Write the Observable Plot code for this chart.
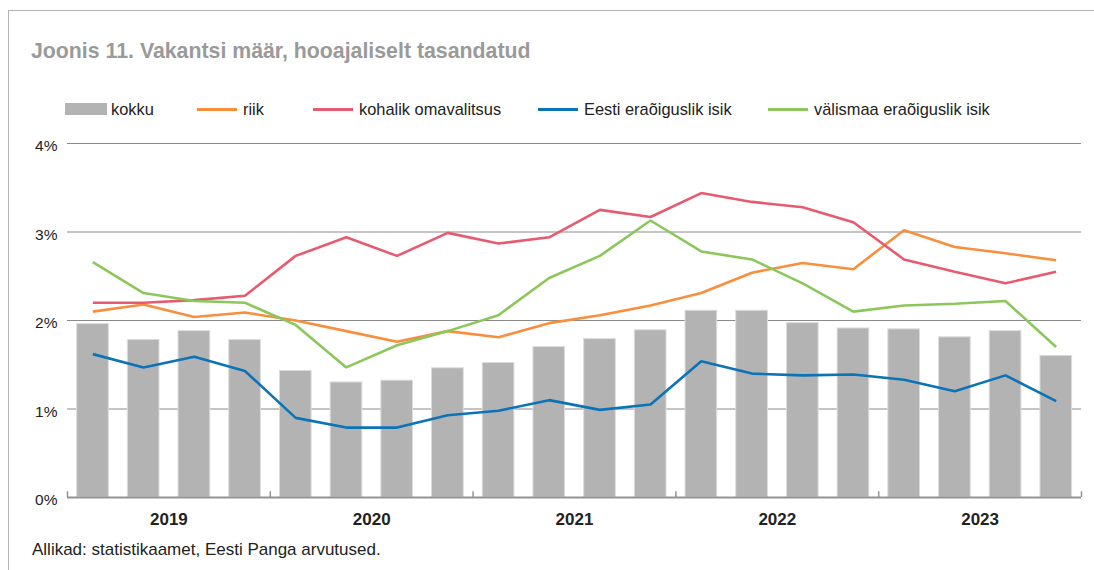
<!DOCTYPE html>
<html>
<head>
<meta charset="utf-8">
<script src="https://cdn.jsdelivr.net/npm/d3@7"></script>
<script src="https://cdn.jsdelivr.net/npm/@observablehq/plot@0.6"></script>
<style>
  html, body { margin: 0; padding: 0; background: #fff; }
  body { width: 1094px; height: 570px; position: relative; overflow: hidden; font-family: "Liberation Sans", Arial, Helvetica, sans-serif; }
  #frame { position: absolute; left: 8px; top: 10px; width: 1200px; height: 700px; border: 1.5px solid #b4b4b4; box-sizing: border-box; }
  #title { position: absolute; left: 31px; top: 39px; font-size: 21.3px; font-weight: bold; color: #9a9a9a; white-space: nowrap; }
  .leg { position: absolute; top: 100px; font-size: 16.4px; color: #222; white-space: nowrap; line-height: 19px; }
  .sw { position: absolute; }
  #chart { position: absolute; left: 0; top: 125px; }
  #caption { position: absolute; left: 32px; top: 540px; font-size: 17px; color: #222; white-space: nowrap; }
</style>
</head>
<body>
<div id="frame"></div>
<div id="title">Joonis 11. Vakantsi määr, hooajaliselt tasandatud</div>
<div id="legend"></div>
<div id="chart"></div>
<div id="caption">Allikad: statistikaamet, Eesti Panga arvutused.</div>
<script>
// Data (percent), quarterly 2019 Q1 – 2023 Q4
const years = ["2019", "2020", "2021", "2022", "2023"];
const quarters = years.flatMap(y => ["I", "II", "III", "IV"].map(q => y + " " + q));
const kokku    = [1.96, 1.78, 1.88, 1.78, 1.43, 1.30, 1.32, 1.46, 1.52, 1.70, 1.79, 1.89, 2.11, 2.11, 1.97, 1.91, 1.90, 1.81, 1.88, 1.60];
const riik     = [2.10, 2.18, 2.04, 2.09, 2.00, 1.88, 1.76, 1.88, 1.81, 1.97, 2.06, 2.17, 2.31, 2.54, 2.65, 2.58, 3.02, 2.83, 2.76, 2.68];
const kohalik  = [2.20, 2.20, 2.23, 2.28, 2.73, 2.94, 2.73, 2.99, 2.87, 2.94, 3.25, 3.17, 3.44, 3.34, 3.28, 3.11, 2.69, 2.55, 2.42, 2.55];
const eesti    = [1.62, 1.47, 1.59, 1.43, 0.90, 0.79, 0.79, 0.93, 0.98, 1.10, 0.99, 1.05, 1.54, 1.40, 1.38, 1.39, 1.33, 1.20, 1.38, 1.09];
const valismaa = [2.66, 2.31, 2.22, 2.20, 1.95, 1.47, 1.72, 1.88, 2.06, 2.48, 2.73, 3.13, 2.78, 2.69, 2.42, 2.10, 2.17, 2.19, 2.22, 1.70];
const yTicks = [0, 1, 2, 3, 4];

const seriesNames = ["kokku", "riik", "kohalik omavalitsus", "Eesti eraõiguslik isik", "välismaa eraõiguslik isik"];
const colors = ["#b3b3b4", "#f98e3d", "#e65b6f", "#0b73b6", "#8bc75c"];

// Legend
const legX = [65, 197, 313, 538, 768];
const legend = document.getElementById("legend");
seriesNames.forEach((name, i) => {
  const sw = document.createElement("div");
  sw.className = "sw";
  if (i === 0) {
    sw.style.cssText = `left:${legX[i]}px;top:103px;width:42px;height:12px;background:${colors[i]};`;
  } else {
    sw.style.cssText = `left:${legX[i]}px;top:108px;width:40px;height:3px;background:${colors[i]};`;
  }
  legend.appendChild(sw);
  const t = document.createElement("div");
  t.className = "leg";
  t.style.left = (legX[i] + 46) + "px";
  t.textContent = name;
  legend.appendChild(t);
});

const rows = quarters.map((q, i) => ({q, i, kokku: kokku[i]}));
const lineSeries = [riik, kohalik, eesti, valismaa];
const lineData = lineSeries.flatMap((arr, s) => arr.map((v, i) => ({s: seriesNames[s + 1], i, v, c: colors[s + 1]})));
const yearData = years.map((y, k) => ({y, k}));

const chart = Plot.plot({
  width: 1094,
  height: 412,
  marginLeft: 67,
  marginRight: 13,
  marginTop: 18,
  marginBottom: 40,
  style: {fontFamily: "'Liberation Sans', Arial, Helvetica, sans-serif", fontSize: "15px", color: "#222", background: "transparent"},
  x: {domain: [0, 20], axis: null},
  y: {domain: [0, 4], axis: null},
  marks: [
    Plot.ruleY(yTicks.filter(d => d > 0), {stroke: "#8a8a8a", strokeWidth: 1, strokeOpacity: 1}),
    Plot.rectY(rows, {x1: d => d.i + 0.19, x2: d => d.i + 0.815, y: "kokku", fill: colors[0], stroke: "#dcdcdc", strokeWidth: 1}),
    Plot.ruleY([0], {stroke: "#8f9496", strokeWidth: 2}),
    Plot.ruleX(d3.range(0, 21, 4), {y1: 0, y2: 0.065, stroke: "#8f9496", strokeWidth: 1.5}),
    Plot.text(yTicks, {x: 0, y: d => d, text: d => d + "%", textAnchor: "end", dx: -10, dy: 3, fill: "#222", fontSize: 15.5}),
    Plot.text(yearData, {x: d => d.k * 4 + 2, y: 0, text: "y", dy: 22, fontWeight: "bold", fill: "#222", fontSize: 17}),
    Plot.line(lineData, {x: d => d.i + 0.5, y: "v", z: "s", stroke: "c", strokeWidth: 2.6, strokeLinejoin: "miter", strokeLinecap: "butt"})
  ]
});
document.getElementById("chart").appendChild(chart);
</script>
</body>
</html>
